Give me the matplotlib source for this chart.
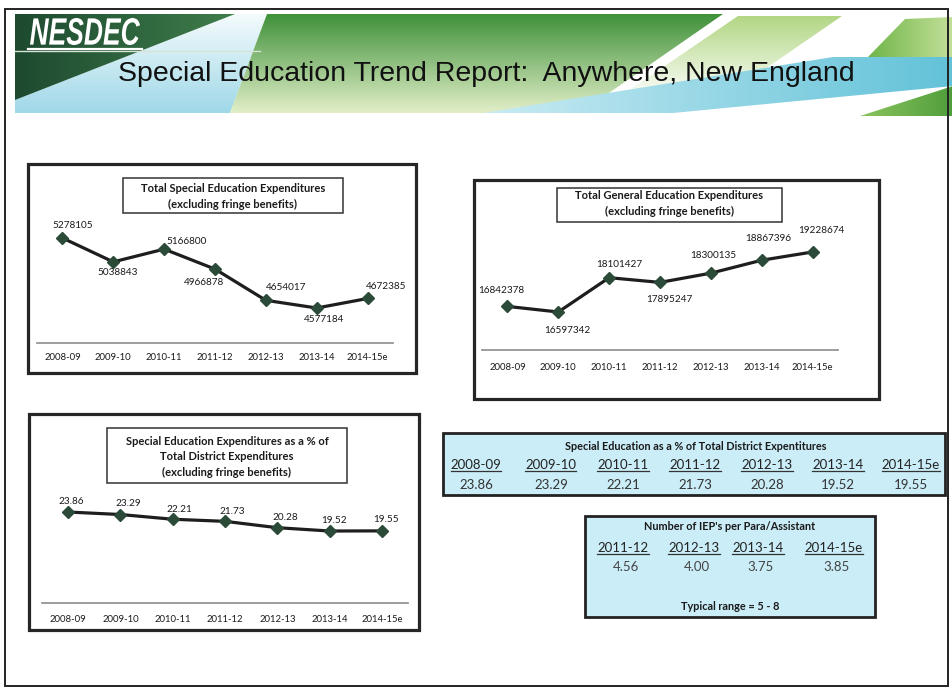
import numpy as np
import matplotlib
matplotlib.use("Agg")
import matplotlib.pyplot as plt
from matplotlib.patches import Polygon, Rectangle, PathPatch
from matplotlib.textpath import TextPath
from matplotlib.font_manager import FontProperties
from matplotlib.transforms import Affine2D
from matplotlib.colors import to_rgb

# Дані з трьох графіків і двох таблиць
years = ['2008-09', '2009-10', '2010-11', '2011-12', '2012-13', '2013-14', '2014-15e']
sped_exp = [5278105, 5038843, 5166800, 4966878, 4654017, 4577184, 4672385]
gen_exp = [16842378, 16597342, 18101427, 17895247, 18300135, 18867396, 19228674]
sped_pct = [23.86, 23.29, 22.21, 21.73, 20.28, 19.52, 19.55]
iep_years = ['2011-12', '2012-13', '2013-14', '2014-15e']
iep_per_para = [4.56, 4.00, 3.75, 3.85]

W, H = 953, 688
FONT = 'Lato'
plt.rcParams['font.family'] = [FONT, 'DejaVu Sans']

fig = plt.figure(figsize=(W / 100, H / 100), dpi=100)
fig.patch.set_facecolor('white')

# фонова вісь у пікселях (y вниз)
bg = fig.add_axes([0, 0, 1, 1])
bg.set_xlim(0, W)
bg.set_ylim(H, 0)
bg.axis('off')


def grad_poly(pts, c0, c1, horizontal=False, z=1):
    poly = Polygon(pts, closed=True, fc='none', ec='none')
    bg.add_patch(poly)
    xs, ys = zip(*pts)
    t = np.linspace(0, 1, 256)[:, None]
    cols = np.array(to_rgb(c0)) * (1 - t) + np.array(to_rgb(c1)) * t
    img = cols[None, :, :] if horizontal else cols[:, None, :]
    im = bg.imshow(img, extent=(min(xs), max(xs), max(ys), min(ys)),
                   aspect='auto', zorder=z, interpolation='bilinear')
    im.set_clip_path(poly)


# шапка слайда
grad_poly([(15, 100), (235, 14), (267, 14), (230, 113), (15, 113)], '#f4fbfc', '#9fd8e8')
grad_poly([(15, 14), (235, 14), (15, 100)], '#1d4a30', '#3f7d4a', horizontal=True, z=2)
grad_poly([(267, 14), (723, 14), (580, 113), (230, 113)], '#3f913a', '#e2efc8', z=2)
grad_poly([(738, 16), (842, 16), (720, 100), (615, 100)], '#b2d684', '#ffffff', z=2)
grad_poly([(483, 113), (673, 113), (953, 86), (953, 57), (833, 57)], '#c9ebf3', '#62c2d8',
          horizontal=True, z=3)
grad_poly([(905, 19), (953, 17), (953, 57), (868, 57)], '#6fb548', '#c4e09a', horizontal=True, z=2)
grad_poly([(860, 116), (953, 116), (953, 86)], '#8cc45e', '#4f9e3c', horizontal=True, z=3)
bg.plot([15, 260], [51, 51], color='#d8e2d8', lw=1, zorder=4)

fp = FontProperties(family='Liberation Sans', weight='bold', style='italic')
tp = TextPath((0, 0), 'NESDEC', size=30, prop=fp)
bb = tp.get_extents()
tr = Affine2D().translate(-bb.x0, -bb.y0).scale(110 / bb.width, -27 / bb.height).translate(30, 45)
bg.add_patch(PathPatch(tp, transform=tr + bg.transData, fc='white', ec='none', zorder=5))
bg.plot([28, 142], [48.5, 48.5], color='white', lw=1.6, zorder=5)

bg.text(118, 74, 'Special Education Trend Report:  Anywhere, New England',
        family='Liberation Sans', fontsize=20.5, color='#111111', va='center', ha='left', zorder=6)

# рамка слайда
bg.add_patch(Rectangle((5, 9), 943, 677, fill=False, ec='#222222', lw=1.4, zorder=6))


def px_axes(x0, y0, x1, y1):
    return fig.add_axes([x0 / W, 1 - y1 / H, (x1 - x0) / W, (y1 - y0) / H])


def line_chart(box, title_box, title, title_y, ax_box, ylim, values, offsets, fmt, pad):
    bx0, by0, bx1, by1 = box
    bg.add_patch(Rectangle((bx0, by0), bx1 - bx0, by1 - by0, fill=False,
                           ec='#262626', lw=2.3, zorder=6))
    tx0, ty0, tx1, ty1 = title_box
    bg.add_patch(Rectangle((tx0, ty0), tx1 - tx0, ty1 - ty0, fill=False,
                           ec='#333333', lw=1.1, zorder=6))
    bg.text((tx0 + tx1) / 2, title_y, title, fontsize=8, fontweight='bold',
            ha='center', va='center', linespacing=1.45, color='#1a1a1a', zorder=6)

    ax = px_axes(*ax_box)
    ax.set_facecolor('none')
    x = np.arange(len(values))
    ax.plot(x, values, color='#1e1e1e', lw=2.3, zorder=2)
    ax.plot(x, values, ls='none', marker='D', ms=6, mfc='#2c4a38', mec='#2c4a38', zorder=3)
    for xi, v, (dx, dy) in zip(x, values, offsets):
        ax.annotate(fmt(v), (xi, v), xytext=(dx, -dy), textcoords='offset pixels',
                    ha='center', va='center', fontsize=7.2, color='#1a1a1a')
    ax.set_xlim(-0.5, len(values) - 0.5)
    ax.set_ylim(*ylim)
    ax.set_xticks(x)
    ax.set_xticklabels(years, fontsize=6.8, color='#1a1a1a')
    ax.set_yticks([])
    ax.tick_params(axis='x', length=0, pad=pad)
    for s in ['top', 'left', 'right']:
        ax.spines[s].set_visible(False)
    ax.spines['bottom'].set_color('#8c8c8c')
    ax.spines['bottom'].set_linewidth(1.2)
    return ax


line_chart((28, 164, 416, 373), (123, 178, 343, 213),
           'Total Special Education Expenditures\n(excluding fringe benefits)', 196.5,
           (37, 170, 393, 343), (4226738, 5958990), sped_exp,
           [(10, -12), (4, 11), (22, -8), (-11, 13), (20, -13), (7, 11), (19, -12)],
           lambda v: f'{v}', 7)

line_chart((474, 180, 879, 399), (557, 188, 782, 222),
           'Total General Education Expenditures\n(excluding fringe benefits)', 203.5,
           (482, 228, 838, 350), (14930852, 20280000), gen_exp,
           [(-6, -16), (9, 19), (10, -13), (9, 17), (2, -18), (7, -22), (9, -21)],
           lambda v: f'{v}', 9)

line_chart((29, 414, 419, 630), (107, 428, 347, 483),
           'Special Education Expenditures as a % of\nTotal District Expenditures\n(excluding fringe benefits)', 457,
           (42, 488, 408, 603), (3.07, 29.35), sped_pct,
           [(3, -11), (8, -11), (7, -10), (7, -10), (8, -10), (4, -11), (4, -11)],
           lambda v: f'{v:.2f}', 9)

# таблиці
t1_x = [476, 551, 623, 695, 767, 838, 911]
t2_x = [623, 694, 758, 834]
bg.add_patch(Rectangle((443, 433), 502, 62, fc='#cbedf7', ec='#222222', lw=2.0, zorder=6))
bg.text(696, 446, 'Special Education as a % of Total District Expentitures',
        fontsize=7.8, fontweight='bold', ha='center', va='center', color='#1a1a1a', zorder=7)
bg.add_patch(Rectangle((585, 516), 290, 101, fc='#cbedf7', ec='#222222', lw=2.0, zorder=6))
bg.text(730, 527, "Number of IEP's per Para/Assistant",
        fontsize=7.8, fontweight='bold', ha='center', va='center', color='#1a1a1a', zorder=7)
bg.text(730, 606, 'Typical range = 5 - 8',
        fontsize=7.8, fontweight='bold', ha='center', va='center', color='#1a1a1a', zorder=7)

headers = []
for xp, yr, v in zip(t1_x, years, sped_pct):
    headers.append(bg.text(xp, 465, yr, fontsize=9.5, ha='center', va='center', color='#222222', zorder=7))
    bg.text(xp, 485, f'{v:.2f}', fontsize=9.5, ha='center', va='center', color='#333333', zorder=7)
for xp, yr, v in zip(t2_x, iep_years, iep_per_para):
    headers.append(bg.text(xp, 548, yr, fontsize=9.5, ha='center', va='center', color='#222222', zorder=7))
    bg.text(xp + 3, 567, f'{v:.2f}', fontsize=9.5, ha='center', va='center', color='#444444', zorder=7)

# підкреслення заголовків колонок
fig.canvas.draw()
rend = fig.canvas.get_renderer()
for t in headers:
    b = t.get_window_extent(rend)
    yl = H - b.y0 - 0.5
    bg.plot([b.x0, b.x1], [yl, yl], color='#333333', lw=0.9, zorder=7)

bg.set_xlim(0, W)
bg.set_ylim(H, 0)
fig.savefig('out.png', dpi=100)
